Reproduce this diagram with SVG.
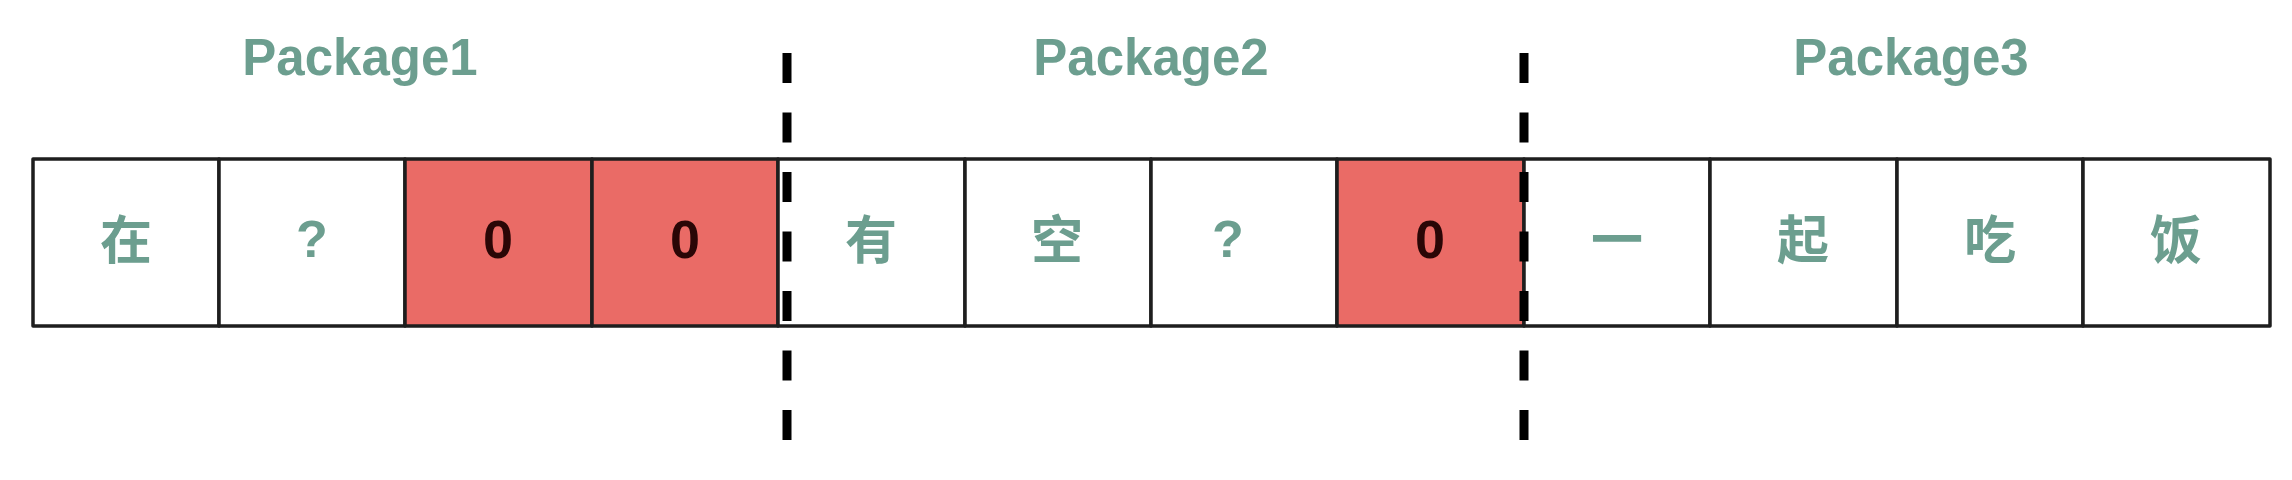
<svg xmlns="http://www.w3.org/2000/svg" width="2292" height="480" viewBox="0 0 2292 480">
<style>
.cell{fill:#ffffff;stroke:#1e1e1e;stroke-width:3.5;stroke-linejoin:round}
.red{fill:#ea6b66;stroke:#1e1e1e;stroke-width:3.5;stroke-linejoin:round}
.t{font-family:"Liberation Sans","Noto Sans CJK SC",Arial,sans-serif;font-size:52px;font-weight:bold;fill:#6c9e8f;text-anchor:middle}
.z{font-family:"Liberation Sans",Arial,sans-serif;font-size:54px;font-weight:bold;fill:#2a0606;text-anchor:middle}
.lbl{font-family:"Liberation Sans",Arial,sans-serif;font-size:51px;font-weight:bold;fill:#6c9e8f;text-anchor:middle}
.sep{stroke:#000000;stroke-width:9;stroke-dasharray:30 29.5;fill:none}
</style>
<rect width="2292" height="480" fill="#ffffff"/>
<g id="label-package1"><text class="lbl" x="360" y="75">Package1</text></g>
<g id="label-package2"><text class="lbl" x="1151" y="75">Package2</text></g>
<g id="label-package3"><text class="lbl" x="1911" y="75">Package3</text></g>
<g id="cell1"><rect class="cell" x="33" y="159" width="186" height="167"/><text class="t" x="126" y="259">在</text></g>
<g id="cell2"><rect class="cell" x="219" y="159" width="186" height="167"/><text class="t" x="312" y="257">?</text></g>
<g id="cell3"><rect class="red" x="405" y="159" width="187" height="167"/><text class="z" x="498" y="258">0</text></g>
<g id="cell4"><rect class="red" x="592" y="159" width="186" height="167"/><text class="z" x="685" y="258">0</text></g>
<g id="cell5"><rect class="cell" x="778" y="159" width="187" height="167"/><text class="t" x="871" y="259">有</text></g>
<g id="cell6"><rect class="cell" x="965" y="159" width="186" height="167"/><text class="t" x="1057" y="259">空</text></g>
<g id="cell7"><rect class="cell" x="1151" y="159" width="186" height="167"/><text class="t" x="1228" y="257">?</text></g>
<g id="cell8"><rect class="red" x="1337" y="159" width="187" height="167"/><text class="z" x="1430" y="258">0</text></g>
<g id="cell9"><rect class="cell" x="1524" y="159" width="186" height="167"/><text class="t" x="1617" y="259">一</text></g>
<g id="cell10"><rect class="cell" x="1710" y="159" width="187" height="167"/><text class="t" x="1803" y="259">起</text></g>
<g id="cell11"><rect class="cell" x="1897" y="159" width="186" height="167"/><text class="t" x="1990" y="259">吃</text></g>
<g id="cell12"><rect class="cell" x="2083" y="159" width="187" height="167"/><text class="t" x="2176" y="259">饭</text></g>
<g id="connectors">
<line class="sep" x1="787" y1="53" x2="787" y2="442"/>
<line class="sep" x1="1524" y1="53" x2="1524" y2="442"/>
</g>
</svg>
